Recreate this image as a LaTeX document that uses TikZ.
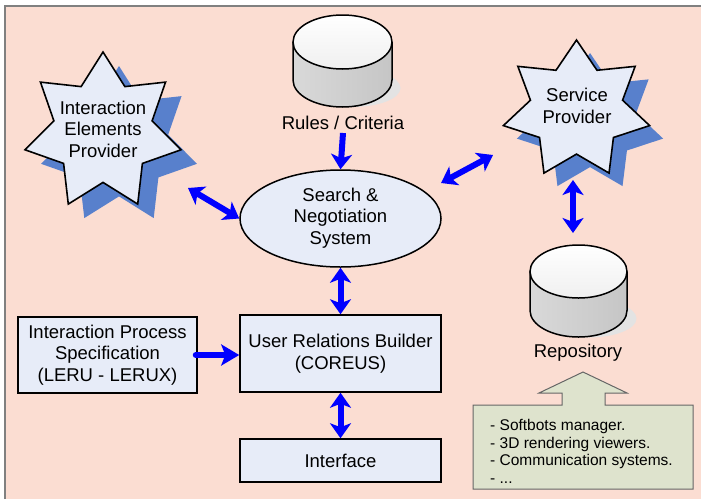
\documentclass[tikz,border=0pt]{standalone}
\usepackage{fontspec}
\setmainfont{Liberation Sans}
\usetikzlibrary{arrows.meta,shapes.geometric}
\definecolor{bgpink}{RGB}{251,221,210}
\definecolor{boxblue}{RGB}{231,236,248}
\definecolor{shadowblue}{RGB}{88,128,204}
\definecolor{callgreen}{RGB}{222,227,205}
\definecolor{arrowblue}{RGB}{0,0,255}
% star: cx, cy, Rx, Ry, style
\newcommand\drawstar[5]{%
  \path[#5] plot[samples at={0,...,13},variable=\k]
    ({#1+#3*(1-0.37*mod(\k,2))*cos(90+\k*180/7)},{#2-#4*(1-0.37*mod(\k,2))*sin(90+\k*180/7)}) -- cycle;}
% cylinder: cx, top cy, bottom cy, rx, ry
\newcommand\cylside[5]{({#1-#4},#2) -- ({#1-#4},#3)
  .. controls ({#1-#4},{#3+0.5523*#5}) and ({#1-0.5523*#4},{#3+#5}) .. (#1,{#3+#5})
  .. controls ({#1+0.5523*#4},{#3+#5}) and ({#1+#4},{#3+0.5523*#5}) .. ({#1+#4},#3)
  -- ({#1+#4},#2)}
\newcommand\drawcyl[5]{%
  \fill[gray!22] ({#1+10},{#3+8}) ellipse[x radius=48, y radius=19];
  \shade[left color=gray!30, middle color=gray!10, right color=gray!45] \cylside{#1}{#2}{#3}{#4}{#5} -- cycle;
  \draw[line width=1.5pt] \cylside{#1}{#2}{#3}{#4}{#5};
  \shade[top color=white, bottom color=gray!12] (#1,#2) ellipse[x radius=#4, y radius=#5];
  \draw[line width=1.5pt] (#1,#2) ellipse[x radius=#4, y radius=#5];}
\begin{document}
\begin{tikzpicture}[x=1pt,y=-1pt,
  txt/.style={font=\fontsize{18.5}{21.5}\selectfont, align=center, inner sep=0pt},
  box/.style={draw=black, line width=1.5pt, fill=boxblue, inner sep=0pt, font=\fontsize{18.5}{21.5}\selectfont, align=center},
  barrow/.style={draw=arrowblue, line width=6pt,
    {Stealth[length=15pt,width=21pt,inset=4pt]}-{Stealth[length=15pt,width=21pt,inset=4pt]}},
  sarrow/.style={draw=arrowblue, line width=6pt, line cap=round,
    -{Stealth[length=18pt,width=21pt,inset=4pt]}},
  starstyle/.style={fill=boxblue, draw=black, line width=1.6pt, line join=miter}
]
\useasboundingbox (0,0) rectangle (701,499);
\fill[white] (0,0) rectangle (701,499);
\fill[bgpink] (5,6) rectangle (701,499);
\draw[gray, line width=1.5pt] (5,499) -- (5,6) -- (701,6);

% stars
\drawstar{119}{146}{80}{80}{fill=shadowblue}
\drawstar{103}{132}{80}{80}{starstyle}
\node[txt] (iep) at (103,129) {Interaction\\Elements\\Provider};

\drawstar{590}{123}{75}{70}{fill=shadowblue}
\drawstar{576.5}{110}{75}{70}{starstyle}
\node[txt] (sp) at (577,106) {Service\\Provider};

% cylinders
\drawcyl{342.5}{42}{80}{49.5}{27}
\node[txt] (rules) at (343,123) {Rules / Criteria};
\drawcyl{578.5}{271.5}{310.5}{48.5}{26.5}
\node[txt] (repo) at (578,353) {Repository};

% search ellipse
\node[draw=black, line width=1.5pt, fill=boxblue, ellipse, minimum width=201pt, minimum height=97pt, inner sep=0pt] (search) at (340.5,218.5) {};
\node[txt] (searchtxt) at (340.5,218) {Search \&\\Negotiation\\System};

% boxes
\node[box, minimum width=179pt, minimum height=76pt] (ips) at (107.5,355) {Interaction Process\\Specification\\(LERU - LERUX)};
\node[box, minimum width=201pt, minimum height=77pt] (urb) at (340.5,353.5) {User Relations Builder\\(COREUS)};
\node[box, minimum width=201pt, minimum height=43pt] (iface) at (340.5,460.5) {Interface};

% callout
\path[fill=callgreen, draw=gray!80!black, line width=1pt]
  (473,405) -- (562,405) -- (562,393) -- (539,393) -- (583,372) -- (627,393) -- (605,393) -- (605,405) -- (693,405) -- (693,489) -- (473,489) -- cycle;
\node[anchor=north west, align=left, inner sep=0pt, font=\fontsize{15.5}{17.7}\selectfont] (list) at (490,419)
  {- Softbots manager.\\- 3D rendering viewers.\\- Communication systems.\\- ...};

% connectors
\coordinate (e1) at (188,188);
\coordinate (s1) at (441,183);
\coordinate (s2) at (493,155);
\coordinate (r1) at (573,180);
\coordinate (r2) at (573,233);
\coordinate (rc) at (343,133);
\draw[barrow] (e1) -- (search.west);
\draw[barrow] (s1) -- (s2);
\draw[barrow] (r1) -- (r2);
\draw[barrow] (search.south) -- (urb.north);
\draw[barrow] (urb.south) -- (iface.north);
\draw[draw=arrowblue, line width=6pt, -{Stealth[length=15pt,width=21pt,inset=4pt]}] (rc) -- (search.north);
\draw[sarrow] ([xshift=-2pt]ips.east) -- (ips.east -| urb.west);
\end{tikzpicture}
\end{document}
